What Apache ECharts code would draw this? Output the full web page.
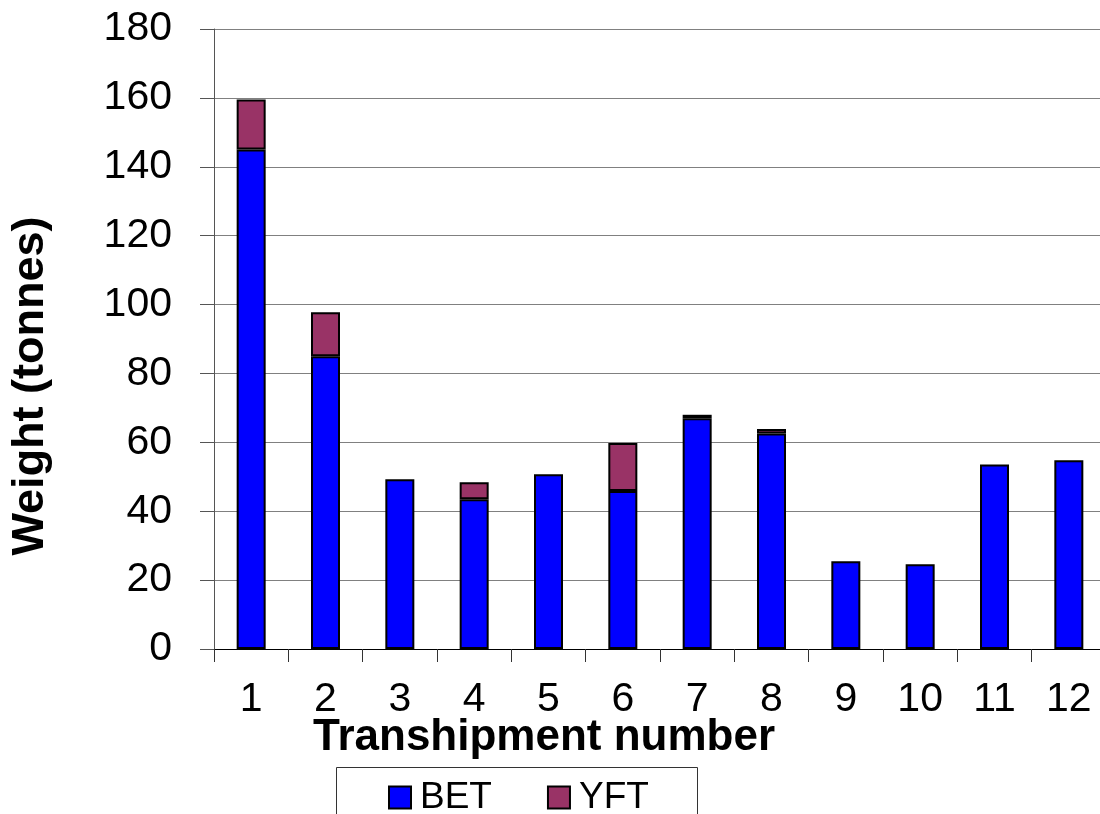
<!DOCTYPE html>
<html>
<head>
<meta charset="utf-8">
<title>Transhipment weights</title>
<script src="https://cdn.jsdelivr.net/npm/echarts@6/dist/echarts.min.js"></script>
<style>
  html, body { margin: 0; padding: 0; background: #ffffff; overflow: hidden; }
  /* the plot area runs a few pixels past the right edge of the page */
  #chart { width: 1106px; height: 814px; }
</style>
</head>
<body>
<div id="chart"></div>
<script>
// Transhipment numbers along the x axis
const categories = ['1', '2', '3', '4', '5', '6', '7', '8', '9', '10', '11', '12'];
// Bigeye tuna weight per transhipment (tonnes)
const betValues = [145, 85, 49.3, 43.5, 50.7, 45.9, 67.0, 62.6, 25.5, 24.6, 53.6, 54.8];
// Yellowfin tuna weight per transhipment (tonnes); null where none was recorded
const yftValues = [14.5, 12.8, null, 4.9, null, 13.9, 1.0, 1.3, null, null, null, null];
// Value axis range and step
const yMin = 0;
const yMax = 180;
const yStep = 20;

const FONT = '"Liberation Sans", Arial, sans-serif';

const chart = echarts.init(document.getElementById('chart'), null, { renderer: 'canvas' });

chart.setOption({
  backgroundColor: '#ffffff',
  animation: false,
  grid: { left: 214, top: 29, width: 892, height: 620, containLabel: false },
  legend: {
    data: ['BET', 'YFT'],
    left: 388,
    top: 779,
    icon: 'rect',
    itemWidth: 22,
    itemHeight: 22,
    itemGap: 55,
    padding: 0,
    textStyle: { fontFamily: FONT, fontSize: 37, color: '#000', padding: [0, 0, 0, 4] }
  },
  xAxis: {
    type: 'category',
    data: categories,
    boundaryGap: true,
    axisLine: { show: true, lineStyle: { color: '#000', width: 1 } },
    axisTick: { show: true, length: 13, inside: false, alignWithLabel: false, lineStyle: { color: '#333', width: 1 } },
    axisLabel: { fontFamily: FONT, fontSize: 41, color: '#000', margin: 30 },
    splitLine: { show: false }
  },
  yAxis: {
    type: 'value',
    min: yMin,
    max: yMax,
    interval: yStep,
    axisLine: { show: true, lineStyle: { color: '#555', width: 1 } },
    axisTick: { show: true, length: 14, inside: false, lineStyle: { color: '#555', width: 1 } },
    axisLabel: { fontFamily: FONT, fontSize: 41, color: '#000', margin: 42 },
    splitLine: { show: true, lineStyle: { color: '#808080', width: 1 } }
  },
  graphic: [
    {
      type: 'text',
      x: 544, y: 738,
      style: {
        text: 'Transhipment number',
        font: 'bold 44px ' + FONT,
        fill: '#000',
        align: 'center',
        verticalAlign: 'middle'
      }
    },
    {
      type: 'text',
      x: 31, y: 386,
      rotation: Math.PI / 2,
      style: {
        text: 'Weight (tonnes)',
        font: 'bold 45px ' + FONT,
        fill: '#000',
        align: 'center',
        verticalAlign: 'middle'
      }
    },
    {
      type: 'rect',
      shape: { x: 336.5, y: 767.5, width: 361, height: 60 },
      style: { fill: 'none', stroke: '#333', lineWidth: 1 },
      z: -1
    }
  ],
  series: [
    {
      name: 'BET',
      type: 'bar',
      stack: 'catch',
      data: betValues,
      barWidth: 29,
      itemStyle: { color: '#0000ff', borderColor: '#000', borderWidth: 2 }
    },
    {
      name: 'YFT',
      type: 'bar',
      stack: 'catch',
      data: yftValues,
      barWidth: 29,
      itemStyle: { color: '#993366', borderColor: '#000', borderWidth: 2 }
    }
  ]
});
</script>
</body>
</html>
